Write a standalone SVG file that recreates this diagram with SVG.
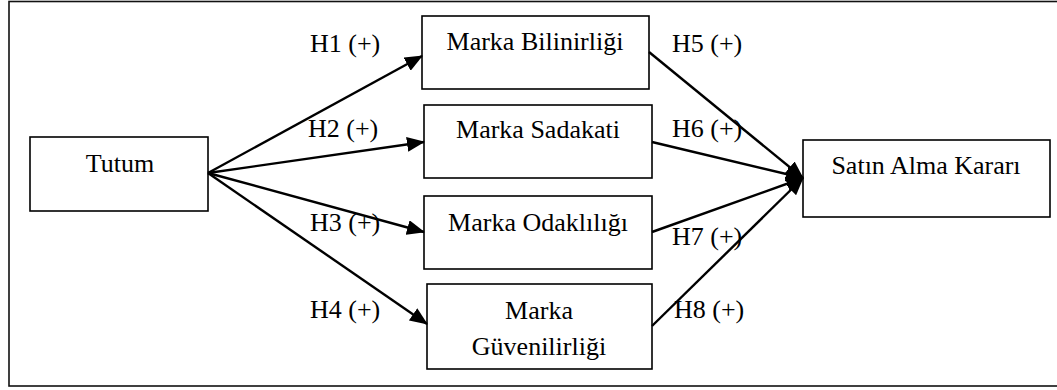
<svg xmlns="http://www.w3.org/2000/svg" width="1057" height="390" viewBox="0 0 1057 390">
<style>
.box{fill:#fff;stroke:#000;stroke-width:1.6}
.frame{fill:#fff;stroke:#111;stroke-width:1.6}
.t{font-family:"Liberation Serif","Times New Roman",serif;font-size:26px;fill:#000}
.c{text-anchor:middle}
.con line{stroke:#000;stroke-width:2.4;marker-end:url(#ah)}
</style>
<defs>
<marker id="ah" markerUnits="userSpaceOnUse" markerWidth="18" markerHeight="15" viewBox="0 0 18 15" refX="17" refY="7.5" orient="auto">
<path d="M0,0 L18,7.5 L0,15 Z" fill="#000"/>
</marker>
</defs>
<rect class="frame" x="9" y="1.5" width="1060" height="384.5"/>
<g id="tutum"><rect class="box" x="30" y="137" width="178" height="74"/><text class="t c" x="120" y="172">Tutum</text></g>
<g id="bilinirlik"><rect class="box" x="422" y="16" width="227" height="73"/><text class="t c" x="535" y="50">Marka Bilinirliği</text></g>
<g id="sadakat"><rect class="box" x="424" y="105" width="228" height="73"/><text class="t c" x="538" y="138">Marka Sadakati</text></g>
<g id="odaklilik"><rect class="box" x="424" y="196" width="228" height="73"/><text class="t c" x="538" y="231">Marka Odaklılığı</text></g>
<g id="guvenilirlik"><rect class="box" x="427" y="284" width="225" height="85"/><text class="t c" x="539" y="319">Marka</text><text class="t c" x="539" y="355">Güvenilirliği</text></g>
<g id="satin"><rect class="box" x="803" y="140" width="247" height="77"/><text class="t c" x="926" y="174">Satın Alma Kararı</text></g>
<g id="connectors" class="con">
<line x1="208" y1="173" x2="422" y2="56"/>
<line x1="208" y1="173" x2="424" y2="142"/>
<line x1="208" y1="173" x2="424" y2="232"/>
<line x1="208" y1="173" x2="427" y2="324"/>
<line x1="649" y1="52" x2="803" y2="178"/>
<line x1="652" y1="142" x2="803" y2="178"/>
<line x1="652" y1="232" x2="803" y2="178"/>
<line x1="652" y1="326" x2="803" y2="178"/>
</g>
<g id="labels">
<text class="t" x="310" y="52">H1 (+)</text>
<text class="t" x="308" y="137">H2 (+)</text>
<text class="t" x="310" y="231">H3 (+)</text>
<text class="t" x="310" y="318">H4 (+)</text>
<text class="t" x="672" y="52">H5 (+)</text>
<text class="t" x="672" y="137">H6 (+)</text>
<text class="t" x="672" y="245">H7 (+)</text>
<text class="t" x="674" y="318">H8 (+)</text>
</g>
</svg>
